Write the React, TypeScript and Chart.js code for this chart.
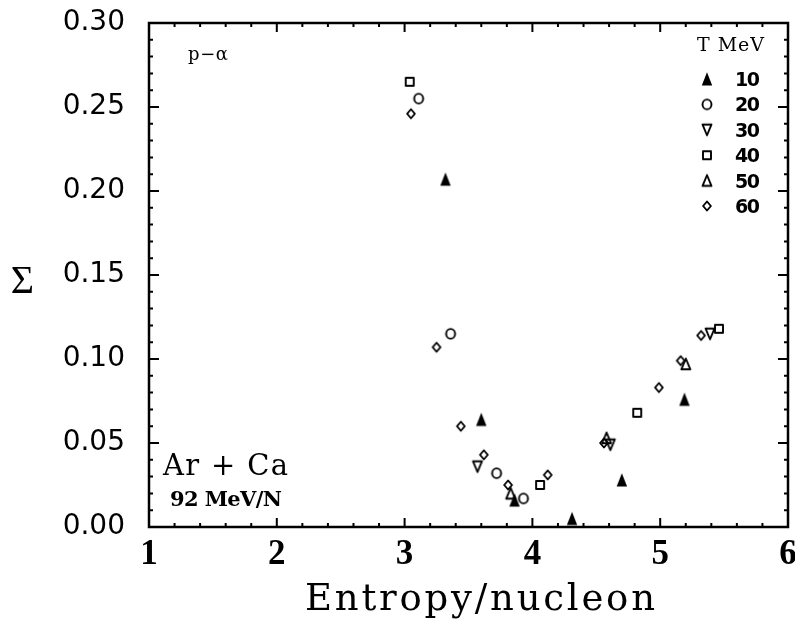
import React, { useEffect, useRef } from "react";
import { Chart, registerables } from "chart.js";

Chart.register(...registerables);

// ---- data ----
const seriesLabels = ["10", "20", "30", "40", "50", "60"];
const markerKinds = ["triFilled", "circle", "triDown", "square", "triUp", "diamond"];

const entropy10 = [3.32, 3.6, 3.86, 4.31, 4.7, 5.19];
const sigma10 = [0.207, 0.064, 0.016, 0.005, 0.028, 0.076];

const entropy20 = [3.11, 3.36, 3.72, 3.93];
const sigma20 = [0.255, 0.115, 0.032, 0.017];

const entropy30 = [3.57, 4.61, 5.39];
const sigma30 = [0.036, 0.049, 0.115];

const entropy40 = [3.04, 4.06, 4.82, 5.46];
const sigma40 = [0.265, 0.025, 0.068, 0.118];

const entropy50 = [3.83, 4.58, 5.2];
const sigma50 = [0.02, 0.053, 0.097];

const entropy60 = [3.05, 3.25, 3.44, 3.62, 3.81, 4.12, 4.56, 4.99, 5.16, 5.32];
const sigma60 = [0.246, 0.107, 0.06, 0.043, 0.025, 0.031, 0.05, 0.083, 0.099, 0.114];

const xTickLabels = ["1", "2", "3", "4", "5", "6"];
const yTickLabels = ["0.00", "0.05", "0.10", "0.15", "0.20", "0.25", "0.30"];

const xTitle = "Entropy/nucleon";
const yTitle = "Σ";
const legendTitle = "T MeV";
const reactionLabel = "p−α";
const systemLabel = "Ar + Ca";
const energyLabel = "92 MeV/N";

const allX = [entropy10, entropy20, entropy30, entropy40, entropy50, entropy60];
const allY = [sigma10, sigma20, sigma30, sigma40, sigma50, sigma60];

function makeMarker(kind: string): HTMLCanvasElement {
  const c = document.createElement("canvas");
  c.width = 18;
  c.height = 18;
  const g = c.getContext("2d")!;
  g.strokeStyle = "#000";
  g.fillStyle = "#000";
  g.lineWidth = 1.9;
  g.lineJoin = "round";
  const cx = 9,
    cy = 9;
  g.beginPath();
  switch (kind) {
    case "triFilled":
      g.moveTo(cx, cy - 6.8);
      g.lineTo(cx + 5.2, cy + 6.5);
      g.lineTo(cx - 5.2, cy + 6.5);
      g.closePath();
      g.fill();
      break;
    case "triUp":
      g.moveTo(cx, cy - 5.5);
      g.lineTo(cx + 4.5, cy + 5.3);
      g.lineTo(cx - 4.5, cy + 5.3);
      g.closePath();
      g.stroke();
      break;
    case "triDown":
      g.moveTo(cx, cy + 5.5);
      g.lineTo(cx + 4.5, cy - 5.3);
      g.lineTo(cx - 4.5, cy - 5.3);
      g.closePath();
      g.stroke();
      break;
    case "circle":
      g.ellipse(cx, cy, 4.5, 4.9, 0, 0, Math.PI * 2);
      g.stroke();
      break;
    case "square":
      g.rect(cx - 4, cy - 4, 8, 8);
      g.stroke();
      break;
    case "diamond":
      g.moveTo(cx, cy - 4.5);
      g.lineTo(cx + 3.9, cy);
      g.lineTo(cx, cy + 4.5);
      g.lineTo(cx - 3.9, cy);
      g.closePath();
      g.stroke();
      break;
  }
  return c;
}

function fitText(
  ctx: CanvasRenderingContext2D,
  text: string,
  font: string,
  left: number,
  baseline: number,
  width: number
) {
  ctx.font = font;
  ctx.textAlign = "left";
  ctx.textBaseline = "alphabetic";
  const chars = Array.from(text);
  const natural = ctx.measureText(text).width;
  const ls = chars.length > 1 ? (width - natural) / (chars.length - 1) : 0;
  let x = left;
  for (const ch of chars) {
    ctx.fillText(ch, x, baseline);
    x += ctx.measureText(ch).width + ls;
  }
}

export default function App() {
  const ref = useRef<HTMLCanvasElement | null>(null);

  useEffect(() => {
    const canvas = ref.current;
    if (!canvas) return;
    const markers = markerKinds.map(makeMarker);

    const decor = {
      id: "decor",
      afterDraw(chart: any) {
        const { ctx, chartArea: a, scales } = chart;
        const xs = scales.x;
        const ys = scales.y;
        ctx.save();
        ctx.strokeStyle = "#000";
        ctx.fillStyle = "#000";
        // inward ticks
        ctx.lineWidth = 2;
        ctx.beginPath();
        for (let k = 0; k <= 25; k++) {
          const px = xs.getPixelForValue(1 + k * 0.2);
          const len = k % 5 === 0 ? 9 : 4;
          ctx.moveTo(px, a.bottom);
          ctx.lineTo(px, a.bottom - len);
          ctx.moveTo(px, a.top);
          ctx.lineTo(px, a.top + len);
        }
        for (let k = 0; k <= 30; k++) {
          const py = ys.getPixelForValue(k * 0.01);
          const len = k % 5 === 0 ? 10 : 4;
          ctx.moveTo(a.left, py);
          ctx.lineTo(a.left + len, py);
          ctx.moveTo(a.right, py);
          ctx.lineTo(a.right - len, py);
        }
        ctx.stroke();
        // frame
        ctx.lineWidth = 2.5;
        ctx.strokeRect(a.left, a.top, a.right - a.left, a.bottom - a.top);

        // legend
        fitText(ctx, legendTitle, "19px 'DejaVu Serif'", 697, 51, 67);
        seriesLabels.forEach((lab, i) => {
          const y = 79 + i * 25.4;
          const m = markers[i];
          ctx.drawImage(m, 707 - m.width / 2, y - m.height / 2);
          fitText(ctx, lab, "bold 19px 'DejaVu Sans'", 735, y + 7, 25);
        });

        // annotations
        fitText(ctx, reactionLabel, "18px 'DejaVu Serif'", 188, 60, 40);
        fitText(ctx, systemLabel, "29px 'DejaVu Serif'", 163, 475, 125);
        fitText(ctx, energyLabel, "bold 21px 'DejaVu Serif'", 170, 506, 112);

        // axis titles
        fitText(ctx, xTitle, "37px 'DejaVu Serif'", 305, 610, 350);
        ctx.font = "40px 'Liberation Serif'";
        ctx.textAlign = "center";
        ctx.textBaseline = "alphabetic";
        ctx.fillText(yTitle, 22.5, 293);
        ctx.restore();
      },
    };

    const datasets = seriesLabels.map((lab, i) => ({
      label: lab,
      data: allX[i].map((x, j) => ({ x, y: allY[i][j] })),
      pointStyle: markers[i] as any,
      pointRadius: 6,
      pointHoverRadius: 6,
      showLine: false,
    }));

    const chart = new Chart(canvas, {
      type: "scatter",
      data: { datasets },
      plugins: [decor],
      options: {
        animation: false,
        responsive: false,
        events: [],
        layout: { padding: { top: 23, right: 7, left: 0, bottom: 0 } },
        plugins: {
          legend: { display: false },
          tooltip: { enabled: false },
          title: { display: false },
        },
        scales: {
          x: {
            type: "linear",
            min: 1,
            max: 6,
            grid: { display: false, drawTicks: false },
            border: { display: false },
            ticks: {
              stepSize: 1,
              padding: 7,
              color: "#000",
              font: { family: "'Liberation Serif'", size: 35, weight: "bold" },
              maxRotation: 0,
              callback: (_v: any, i: number) => xTickLabels[i],
            },
            afterFit: (s: any) => {
              s.height = 92;
              s.paddingLeft = 0;
              s.paddingRight = 0;
            },
          },
          y: {
            type: "linear",
            min: 0,
            max: 0.3,
            grid: { display: false, drawTicks: false },
            border: { display: false },
            ticks: {
              stepSize: 0.05,
              padding: 24,
              color: "#000",
              font: { family: "'DejaVu Sans'", size: 28 },
              callback: (_v: any, i: number) => yTickLabels[i],
            },
            afterFit: (s: any) => {
              s.width = 149;
              s.paddingTop = 0;
              s.paddingBottom = 0;
            },
          },
        },
      } as any,
    });
    return () => chart.destroy();
  }, []);

  return (
    <div style={{ position: "absolute", left: 0, top: 0, width: 795, height: 619, background: "#fff" }}>
      <canvas ref={ref} width={795} height={619} style={{ display: "block" }} />
    </div>
  );
}
